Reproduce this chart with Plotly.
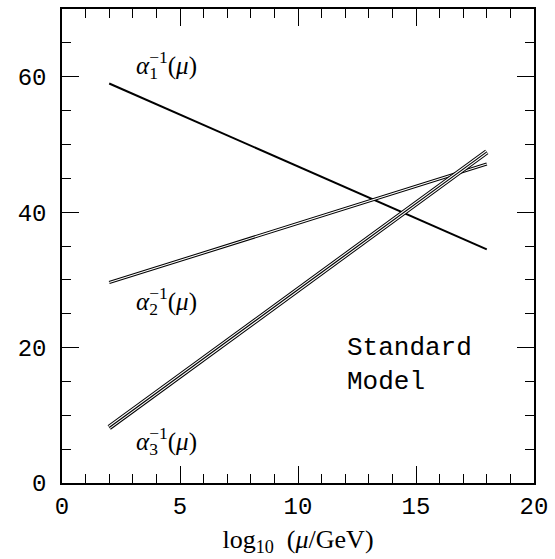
import plotly.graph_objects as go

# Data
x_mu = [2, 18]                      # log10(mu/GeV)
alpha1_inv = [59.0, 34.5]
alpha2_inv = [29.6, 47.1]
alpha3_inv = [8.2, 48.9]

x_ticks = [0, 5, 10, 15, 20]
y_ticks = [0, 20, 40, 60]

labels = [
    # (x, y, subscript)
    (3.05, 61.8, "1"),
    (3.05, 26.9, "2"),
    (3.05, 6.2, "3"),
]

fig = go.Figure()

# alpha1: single line
fig.add_trace(go.Scatter(x=x_mu, y=alpha1_inv, mode="lines",
                         line=dict(color="black", width=2), hoverinfo="skip"))
# alpha2: double line
fig.add_trace(go.Scatter(x=x_mu, y=alpha2_inv, mode="lines",
                         line=dict(color="black", width=3.2), hoverinfo="skip"))
fig.add_trace(go.Scatter(x=x_mu, y=alpha2_inv, mode="lines",
                         line=dict(color="white", width=1.1), hoverinfo="skip"))
# alpha3: triple line
fig.add_trace(go.Scatter(x=x_mu, y=alpha3_inv, mode="lines",
                         line=dict(color="black", width=5.4), hoverinfo="skip"))
fig.add_trace(go.Scatter(x=x_mu, y=alpha3_inv, mode="lines",
                         line=dict(color="white", width=3.4), hoverinfo="skip"))
fig.add_trace(go.Scatter(x=x_mu, y=alpha3_inv, mode="lines",
                         line=dict(color="black", width=1.2), hoverinfo="skip"))

mathfont = dict(family="Liberation Serif", size=25, color="black")
clear = "<span style='color:rgba(0,0,0,0)'>"
for (lx, ly, sub) in labels:
    # alpha with subscript (plus invisible superscript for equal box height)
    fig.add_annotation(x=lx, y=ly, xref="x", yref="y", xanchor="left", yanchor="middle",
                       showarrow=False, font=mathfont,
                       text="<i>α</i><sub>" + sub + "</sub>" + clear + "<sup>−1</sup></span>")
    # superscript -1 and (mu), starting where the subscript starts
    fig.add_annotation(x=lx, y=ly, xref="x", yref="y", xanchor="left", yanchor="middle",
                       showarrow=False, font=mathfont,
                       text=clear + "<i>α</i></span><sup>−1</sup>(<i>μ</i>)"
                            + clear + "<sub>" + sub + "</sub></span>")

fig.add_annotation(x=12.0, y=17.4, xref="x", yref="y", xanchor="left", yanchor="middle",
                   showarrow=False, align="left",
                   font=dict(family="Liberation Mono", size=26, color="black"),
                   text="Standard<br>Model")

axis_common = dict(showline=True, linecolor="black", linewidth=1.5, mirror="ticks",
                   ticks="inside", ticklen=17, tickwidth=1.2, tickcolor="black",
                   showgrid=False, zeroline=False,
                   tickfont=dict(family="Liberation Mono", size=24, color="black"))

fig.update_xaxes(range=[0, 20], tickvals=x_ticks, ticktext=[str(v) for v in x_ticks],
                 minor=dict(dtick=1, tick0=0, ticks="inside", ticklen=9, tickwidth=1.2,
                            tickcolor="black", showgrid=False),
                 title=dict(text="log<sub>10</sub>  (<i>μ</i>/GeV)",
                            font=dict(family="Liberation Serif", size=26, color="black"),
                            standoff=10),
                 **axis_common)
fig.update_yaxes(range=[0, 70], tickvals=y_ticks, ticktext=[str(v) for v in y_ticks],
                 minor=dict(dtick=5, tick0=0, ticks="inside", ticklen=9, tickwidth=1.2,
                            tickcolor="black", showgrid=False),
                 ticklabelstandoff=9,
                 **axis_common)

fig.update_layout(width=555, height=559, margin=dict(l=62, r=18, t=7, b=76),
                  paper_bgcolor="white", plot_bgcolor="white", showlegend=False)

fig.write_html("out.html")
